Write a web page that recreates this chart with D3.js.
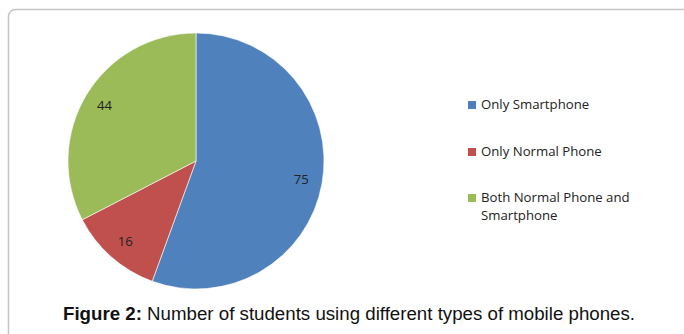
<!DOCTYPE html>
<html><head><meta charset="utf-8">
<script src="https://cdn.jsdelivr.net/npm/d3@7"></script>
<style>html,body{margin:0;padding:0;background:#fff;overflow:hidden}</style>
</head><body>
<svg id="c" width="684" height="334"></svg>
<script>
const categories = ["Only Smartphone", "Only Normal Phone", "Both Normal Phone and Smartphone"];
const values = [75, 16, 44];
const colors = ["#4F81BD", "#C0504D", "#9BBB59"];
const legendLines = [["Only Smartphone"], ["Only Normal Phone"], ["Both Normal Phone and", "Smartphone"]];

const svg = d3.select("#c");
svg.append("rect").attr("x", 8.5).attr("y", 9.5).attr("width", 700).attr("height", 400)
  .attr("rx", 7).attr("fill", "#fff").attr("stroke", "#c4c4c4").attr("stroke-width", 1.5);

const cx = 196, cy = 161, r = 128;
const pie = d3.pie().sort(null).value(d => d)(values);
const arc = d3.arc().innerRadius(0).outerRadius(r);
const labelArc = d3.arc().innerRadius(107).outerRadius(107);
const g = svg.append("g").attr("transform", `translate(${cx},${cy})`);
g.selectAll("path").data(pie).join("path")
  .attr("d", arc).attr("fill", (d, i) => colors[i])
  .attr("stroke", "#fff").attr("stroke-width", 0.6);
g.selectAll("text").data(pie).join("text")
  .attr("transform", d => `translate(${labelArc.centroid(d)})`)
  .attr("text-anchor", "middle").attr("dy", "0.35em")
  .attr("font-family", "Open Sans, sans-serif").attr("font-size", 13.2).attr("fill", "#222")
  .text(d => d.data);

const lg = svg.append("g");
const rowY = [109, 156, 202];
legendLines.forEach((lines, i) => {
  lg.append("rect").attr("x", 468).attr("y", rowY[i] - 8).attr("width", 8).attr("height", 8).attr("fill", colors[i]);
  lines.forEach((t, j) => {
    lg.append("text").attr("x", 481).attr("y", rowY[i] + j * 18)
      .attr("font-family", "Open Sans, sans-serif").attr("font-size", 13.2).attr("fill", "#222").text(t);
  });
});

const cap = svg.append("text").attr("x", 63).attr("y", 320)
  .attr("font-family", "Liberation Sans, Arial, sans-serif").attr("font-size", 18.7).attr("fill", "#111");
cap.append("tspan").attr("font-weight", "bold").text("Figure 2:");
cap.append("tspan").text(" Number of students using different types of mobile phones.");
</script>
</body></html>
